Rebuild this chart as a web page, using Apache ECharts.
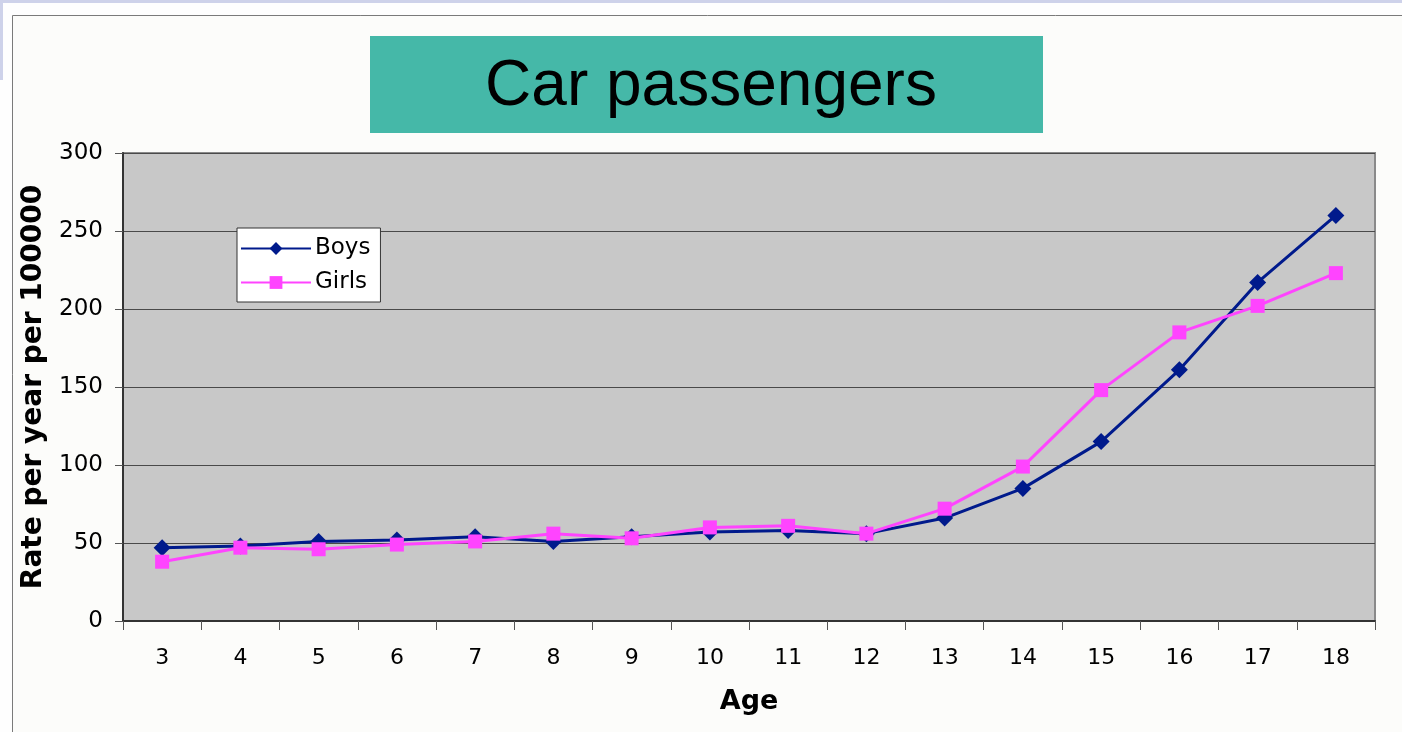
<!DOCTYPE html>
<html>
<head>
<meta charset="utf-8">
<script src="https://cdn.jsdelivr.net/npm/echarts@6/dist/echarts.min.js"></script>
<style>
  html, body { margin: 0; padding: 0; background: #ced2ea; }
  #chart { width: 1402px; height: 732px; }
</style>
</head>
<body>
<div id="chart"></div>
<script>
// Age categories along the x axis
const ages = ['3', '4', '5', '6', '7', '8', '9', '10', '11', '12', '13', '14', '15', '16', '17', '18'];
// Car passenger casualty rates per year per 100000
const boys = [47, 48, 51, 52, 54, 51, 54, 57, 58, 56, 66, 85, 115, 161, 217, 260];
const girls = [38, 47, 46, 49, 51, 56, 53, 60, 61, 56, 72, 99, 148, 185, 202, 223];
const yTicks = [0, 50, 100, 150, 200, 250, 300];

const chart = echarts.init(document.getElementById('chart'), null, { renderer: 'canvas' });

chart.setOption({
  animation: false,
  backgroundColor: '#ced2ea',
  graphic: [
    // page panel with its frame
    { type: 'rect', z: -10, shape: { x: 3, y: 3, width: 1399, height: 729 }, style: { fill: '#fefefe' } },
    { type: 'rect', z: -10, shape: { x: 0, y: 80, width: 4, height: 652 }, style: { fill: '#fefefe' } },
    { type: 'rect', z: -9, shape: { x: 12.5, y: 15.5, width: 1400, height: 730 }, style: { fill: '#fcfcfa', stroke: '#7a7a7a', lineWidth: 1 } },
    // title banner
    { type: 'rect', z: -5, shape: { x: 370, y: 36, width: 673, height: 97 }, style: { fill: '#45b8a8' } }
  ],
  title: {
    text: 'Car passengers',
    left: 706,
    top: 50,
    textAlign: 'center',
    textStyle: { fontFamily: 'Liberation Sans', fontSize: 64, fontWeight: 'normal', color: '#000' }
  },
  legend: {
    left: 237,
    top: 228,
    orient: 'vertical',
    itemGap: 11,
    itemWidth: 70,
    itemHeight: 16,
    padding: [9, 10, 8, 3],
    backgroundColor: '#ffffff',
    borderColor: '#333333',
    borderWidth: 1,
    borderRadius: 0,
    textStyle: { fontFamily: 'DejaVu Sans', fontSize: 23, color: '#000', padding: [0, 0, 0, -1] },
    data: ['Boys', 'Girls']
  },
  grid: {
    left: 123,
    right: 27,
    top: 153,
    bottom: 111,
    show: true,
    backgroundColor: '#c8c8c8',
    borderColor: '#8a8a8a',
    borderWidth: 2
  },
  xAxis: {
    type: 'category',
    data: ages,
    boundaryGap: true,
    name: 'Age',
    nameLocation: 'middle',
    nameGap: 67,
    nameTextStyle: { fontFamily: 'DejaVu Sans', fontSize: 27, fontWeight: 'bold', color: '#000' },
    axisLine: { show: true, lineStyle: { color: '#333', width: 2 } },
    axisTick: { show: true, length: 9, lineStyle: { color: '#555', width: 1 } },
    axisLabel: { fontFamily: 'DejaVu Sans', fontSize: 22, color: '#000', margin: 26 },
    splitLine: { show: false }
  },
  yAxis: {
    type: 'value',
    min: yTicks[0],
    max: yTicks[yTicks.length - 1],
    interval: yTicks[1] - yTicks[0],
    name: 'Rate per year per 100000',
    nameLocation: 'middle',
    nameGap: 70,
    nameTextStyle: { fontFamily: 'DejaVu Sans', fontSize: 28, fontWeight: 'bold', color: '#000' },
    axisLine: { show: true, lineStyle: { color: '#333', width: 2 } },
    axisTick: { show: true, length: 8, lineStyle: { color: '#555', width: 1 } },
    axisLabel: { fontFamily: 'DejaVu Sans', fontSize: 23, color: '#000', margin: 20 },
    splitLine: { show: true, lineStyle: { color: '#4a4a4a', width: 1 } }
  },
  series: [
    {
      name: 'Boys',
      type: 'line',
      data: boys,
      symbol: 'diamond',
      symbolSize: 17,
      lineStyle: { color: '#001a8c', width: 3 },
      itemStyle: { color: '#001a8c' },
      z: 3
    },
    {
      name: 'Girls',
      type: 'line',
      data: girls,
      symbol: 'rect',
      symbolSize: 14,
      lineStyle: { color: '#ff44ff', width: 3 },
      itemStyle: { color: '#ff44ff' },
      z: 4
    }
  ]
});
</script>
</body>
</html>
